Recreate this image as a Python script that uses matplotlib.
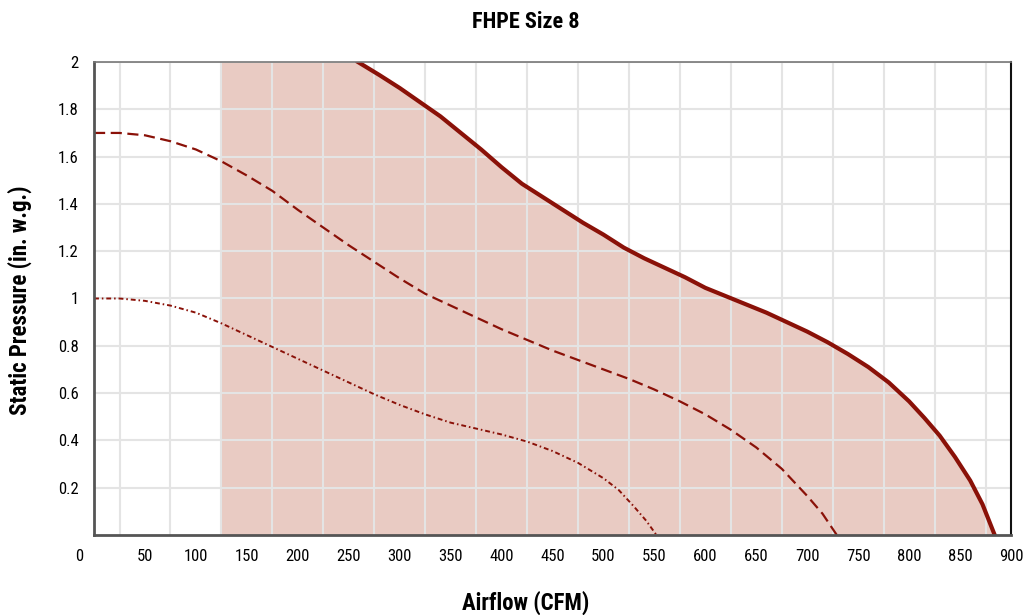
import numpy as np
import matplotlib
matplotlib.use("Agg")
import matplotlib.pyplot as plt
import matplotlib.transforms as mtransforms

plt.rcParams["font.family"] = ["Roboto Condensed", "Liberation Sans Narrow", "Roboto", "DejaVu Sans"]

# maximum fan curve (solid)
max_cfm = [259, 280, 300, 320, 340, 360, 380, 400, 420, 440, 460, 480, 500, 520, 540, 560, 580,
           600, 620, 640, 660, 680, 700, 720, 740, 760, 780, 800, 815, 830, 845, 860, 872, 884]
max_sp = [2.0, 1.945, 1.89, 1.83, 1.77, 1.70, 1.63, 1.555, 1.485, 1.43, 1.375, 1.32, 1.27, 1.215,
          1.17, 1.13, 1.09, 1.045, 1.01, 0.975, 0.94, 0.90, 0.86, 0.815, 0.765, 0.71, 0.645,
          0.565, 0.495, 0.42, 0.33, 0.23, 0.13, 0.0]

# middle curve (dashed)
mid_cfm = [0, 25, 50, 75, 100, 125, 150, 175, 200, 225, 250, 275, 300, 325, 350, 375, 400, 425,
           450, 475, 500, 525, 550, 575, 600, 625, 650, 675, 700, 715, 729]
mid_sp = [1.70, 1.70, 1.69, 1.665, 1.63, 1.58, 1.52, 1.455, 1.375, 1.30, 1.225, 1.155, 1.085,
          1.02, 0.97, 0.92, 0.87, 0.825, 0.78, 0.74, 0.70, 0.66, 0.615, 0.565, 0.51, 0.445,
          0.37, 0.28, 0.165, 0.09, 0.0]

# minimum curve (dash-dot)
min_cfm = [0, 25, 50, 75, 100, 125, 150, 175, 200, 225, 250, 275, 300, 325, 350, 375, 400, 425,
           450, 475, 500, 515, 530, 542, 552]
min_sp = [1.0, 1.0, 0.99, 0.97, 0.94, 0.895, 0.845, 0.795, 0.745, 0.695, 0.645, 0.595, 0.55,
          0.51, 0.475, 0.45, 0.425, 0.395, 0.355, 0.305, 0.24, 0.19, 0.12, 0.06, 0.0]

shade_start = 125
x_ticks = list(range(0, 901, 50))
y_ticks = [0.2, 0.4, 0.6, 0.8, 1, 1.2, 1.4, 1.6, 1.8, 2]
y_tick_labels = ["0.2", "0.4", "0.6", "0.8", "1", "1.2", "1.4", "1.6", "1.8", "2"]

line_color = "#8a1108"
fill_color = "#e9cbc3"

fig = plt.figure(figsize=(10.29, 6.15), dpi=100)
ax = fig.add_axes([0.0914, 0.1301, 0.8911, 0.7691])

ax.set_xlim(0, 900)
ax.set_ylim(0, 2)

# grid
ax.set_xticks(np.arange(0, 901, 25), minor=True)
ax.set_yticks(y_ticks)
ax.grid(True, which="minor", axis="x", color="#e4e4e4", linewidth=1.5, zorder=0)
ax.grid(True, which="major", axis="y", color="#e4e4e4", linewidth=1.5, zorder=0)

# shaded operating range
fill_x = [shade_start] + max_cfm
fill_y = [2.0] + max_sp
ax.fill_between(fill_x, fill_y, 0, color=fill_color, linewidth=0, zorder=1)

ax.plot(max_cfm, max_sp, color=line_color, linewidth=3, solid_joinstyle="round", zorder=3)
ax.plot(mid_cfm, mid_sp, color=line_color, linewidth=1.6, dashes=(5, 2.5), zorder=3)
ax.plot(min_cfm, min_sp, color=line_color, linewidth=1.4, dashes=(2.5, 1.5, 0.8, 1.5), zorder=3)

ax.set_xticks(x_ticks)
ax.set_xticklabels([str(v) for v in x_ticks], fontsize=12)
ax.set_yticklabels(y_tick_labels, fontsize=12)
ax.tick_params(axis="both", which="both", length=0)
ax.tick_params(axis="x", pad=10)
ax.tick_params(axis="y", pad=11)

# the "0" label sits left of the axis corner
shift = mtransforms.ScaledTranslation(-15 / 100, 0, fig.dpi_scale_trans)
lbl0 = ax.get_xticklabels()[0]
lbl0.set_transform(lbl0.get_transform() + shift)

for side in ["left", "bottom"]:
    ax.spines[side].set_color("#555555")
    ax.spines[side].set_linewidth(2)
ax.spines["top"].set_color("#777777")
ax.spines["top"].set_linewidth(1.2)
ax.spines["right"].set_color("#111111")
ax.spines["right"].set_linewidth(1.5)
for s in ax.spines.values():
    s.set_zorder(4)

fig.text(526 / 1029, 1 - 22 / 615, "FHPE Size 8", ha="center", va="center",
         fontsize=16, fontweight="bold")
fig.text(526 / 1029, 1 - 603 / 615, "Airflow (CFM)", ha="center", va="center",
         fontsize=16.5, fontweight="bold")
fig.text(20 / 1029, 1 - 300 / 615, "Static Pressure (in. w.g.)", ha="center", va="center",
         rotation=90, fontsize=16.5, fontweight="bold")

fig.savefig("out.png", dpi=100)
